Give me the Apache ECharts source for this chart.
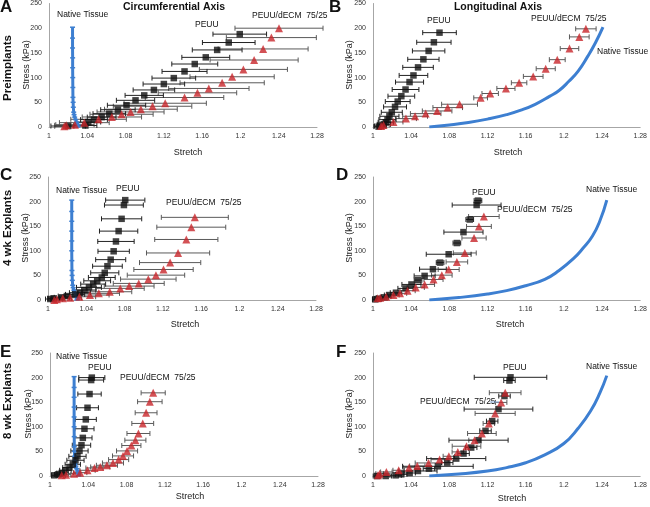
<!DOCTYPE html>
<html><head><meta charset="utf-8">
<script src="https://cdn.jsdelivr.net/npm/echarts@6/dist/echarts.min.js"></script>
<style>html,body{margin:0;padding:0;background:#fff}#c{width:650px;height:507px}</style>
</head><body><div id="c"></div>
<script>
// ---- tick labels ----
const stretchTicks = [1, 1.04, 1.08, 1.12, 1.16, 1.2, 1.24, 1.28];
const stressTicks = [0, 50, 100, 150, 200, 250];

// ---- data: [stretch, stress (kPa), stretch SD] ----
// A: Preimplants, circumferential
const nativeA = [[1.0300,0],[1.0306,2],[1.0302,5],[1.029,10],[1.0278,15],[1.0268,20],[1.0262,25],[1.0258,30],[1.0254,40],[1.0252,50],[1.025,60],[1.0249,80],[1.0248,100],[1.0247,120],[1.0247,140],[1.0246,160],[1.0246,180],[1.0246,202]];
const peuuA = [[1.1993,188,0.028],[1.1878,171,0.0275],[1.1757,156,0.026],[1.1638,141,0.025],[1.1523,127.5,0.024],[1.1416,112.5,0.0235],[1.1304,99,0.0228],[1.12,87,0.0217],[1.1096,75,0.0217],[1.0995,64,0.02],[1.0904,54,0.02],[1.081,44,0.02],[1.072,35,0.018],[1.063,27,0.017],[1.055,20,0.015],[1.047,15,0.014],[1.041,10,0.013],[1.038,3,0.012],[1.02,2,0.018]];
const decmA = [[1.2403,200,0.046],[1.2323,181,0.047],[1.2237,158,0.047],[1.2143,135.6,0.046],[1.2031,116.6,0.046],[1.1913,101.7,0.044],[1.1809,89.5,0.044],[1.167,78,0.042],[1.1551,69.2,0.041],[1.1416,59.7,0.041],[1.1214,48.1,0.043],[1.1082,42,0.041],[1.096,36,0.038],[1.0852,30.5,0.035],[1.0758,25.8,0.033],[1.0657,20.3,0.031],[1.0518,15.6,0.029],[1.0369,8.8,0.026],[1.0271,4.7,0.02],[1.018,3.4,0.012],[1.016,1.4,0.01]];
// B: Preimplants, longitudinal
const nativeB = [[1.059,0],[1.08,4],[1.1,9],[1.12,16],[1.14,25],[1.155,34],[1.17,46],[1.185,62],[1.195,74],[1.205,92],[1.215,113],[1.225,143],[1.233,170],[1.241,202]];
const peuuB = [[1.0697,191,0.0176],[1.0638,171.5,0.018],[1.0583,154,0.017],[1.0528,137,0.0164],[1.0472,120.7,0.016],[1.0424,104.4,0.015],[1.0383,90.9,0.0147],[1.0341,75.9,0.014],[1.0297,62.4,0.014],[1.0259,51.5,0.013],[1.0231,40.7,0.012],[1.0197,29.8,0.011],[1.0172,21.7,0.01],[1.0152,14.9,0.009],[1.0134,9.5,0.008],[1.0114,5.4,0.007],[1.0076,2,0.006],[1.0059,0.7,0.005]];
const decmB = [[1.2231,198.7,0.0107],[1.2162,182.4,0.0103],[1.2059,158.7,0.0097],[1.1931,136.3,0.0083],[1.181,118,0.01],[1.1679,102.4,0.0103],[1.1531,89.5,0.0081],[1.1393,78,0.0095],[1.1228,67.8,0.0086],[1.1128,59,0.0072],[1.0907,46.1,0.0188],[1.0783,39.3,0.0155],[1.0672,32.5,0.0155],[1.0552,27.1,0.016],[1.0441,21.7,0.013],[1.0345,17,0.011],[1.0214,10.2,0.01],[1.011,4,0.006],[1.0086,2,0.004]];
// C: 4 wk explants, circumferential
const nativeC = [[1.0302,0],[1.0307,2],[1.0303,5],[1.0292,10],[1.028,15],[1.027,20],[1.0263,25],[1.0258,30],[1.0254,40],[1.0252,50],[1.025,60],[1.0249,80],[1.0248,100],[1.0248,120],[1.0248,140],[1.0248,160],[1.0248,180],[1.0248,203]];
const peuuC = [[1.0807,203,0.0205],[1.0793,193,0.0203],[1.0769,165,0.021],[1.0738,140,0.02],[1.071,119,0.019],[1.0686,99,0.0164],[1.0655,82,0.0157],[1.0621,68.7,0.0155],[1.0593,55.2,0.0147],[1.0562,45.8,0.014],[1.0514,39,0.014],[1.0472,32.3,0.013],[1.0428,25.6,0.013],[1.0379,20.2,0.012],[1.0334,14.8,0.011],[1.0283,11.4,0.01],[1.0197,8,0.009],[1.0145,5.4,0.008],[1.0059,3.4,0.006],[1.0024,2,0.005]];
const decmC = [[1.1534,168,0.035],[1.1497,148,0.036],[1.1445,123,0.033],[1.1359,95.6,0.033],[1.1276,76,0.032],[1.1207,62,0.031],[1.1128,50.5,0.03],[1.1048,42.4,0.029],[1.0948,33.7,0.0266],[1.0848,28.3,0.026],[1.0755,23.6,0.025],[1.0645,16.8,0.023],[1.0531,13.5,0.0216],[1.0438,10.1,0.02],[1.0328,6.7,0.017],[1.0231,4.7,0.012],[1.0155,3.4,0.009],[1.0093,1.3,0.006],[1.0066,0,0.004]];
// D: 4 wk explants, longitudinal
const nativeD = [[1.059,0],[1.09,5],[1.12,12],[1.14,19],[1.16,29],[1.18,42],[1.195,60],[1.21,84],[1.22,105],[1.23,130],[1.238,162],[1.245,203]];
const peuuD = [[1.11,202,0.004],[1.1086,193,0.0256],[1.1014,163.6,0.004],[1.0948,138,0.0205],[1.0879,115.8,0.004],[1.0793,93,0.0235],[1.0703,76,0.004],[1.0628,62.6,0.014],[1.0541,49,0.011],[1.0472,40.4,0.004],[1.0403,31.6,0.01],[1.0341,23.6,0.008],[1.0241,14.8,0.006],[1.0169,10.1,0.005],[1.0121,5.4,0.004],[1.0059,2.7,0.004],[1.0024,1.3,0.003]];
const decmD = [[1.1162,169.7,0.016],[1.111,149.5,0.013],[1.1059,126,0.0127],[1.0962,95.6,0.012],[1.0879,77.4,0.0113],[1.0793,62,0.011],[1.0721,50.5,0.0108],[1.0634,41.7,0.01],[1.0541,31.6,0.0104],[1.0448,25.6,0.009],[1.0362,18.9,0.008],[1.0283,13.5,0.007],[1.0214,10.1,0.006],[1.0138,6.7,0.005],[1.0076,4.7,0.004],[1.0048,3.4,0.003]];
// E: 8 wk explants, circumferential
const nativeE = [[1.0296,0],[1.0300,2],[1.0297,5],[1.0288,10],[1.0278,15],[1.027,20],[1.0264,25],[1.026,30],[1.0257,40],[1.0255,50],[1.0254,60],[1.0253,80],[1.0252,100],[1.0252,120],[1.0252,140],[1.0252,160],[1.0252,180],[1.0252,202]];
const peuuE = [[1.0437,200,0.0136],[1.043,195,0.013],[1.0413,166.6,0.0122],[1.0392,138.7,0.0114],[1.0374,115,0.011],[1.036,96,0.01],[1.0343,77.5,0.0096],[1.0329,62.6,0.0096],[1.0308,51,0.009],[1.0287,40,0.009],[1.0266,32,0.009],[1.0238,23.8,0.008],[1.0203,17,0.007],[1.0161,11.6,0.006],[1.0122,6.1,0.005],[1.0087,3.4,0.004],[1.0045,1.4,0.003]];
const decmE = [[1.1078,169,0.0126],[1.1043,151,0.0128],[1.1004,128.5,0.0114],[1.0969,106.8,0.0114],[1.0924,86.4,0.012],[1.0892,72.8,0.011],[1.085,61.9,0.01],[1.0805,51,0.011],[1.0763,40.8,0.011],[1.0717,33.3,0.0105],[1.0658,26.5,0.011],[1.0595,21.8,0.011],[1.0525,18.4,0.01],[1.0465,16.3,0.009],[1.0392,11.6,0.008],[1.0315,6.8,0.007],[1.0252,4.8,0.006],[1.0168,2.7,0.005],[1.0122,1.4,0.004]];
// F: 8 wk explants, longitudinal
const nativeF = [[1.059,0],[1.09,4],[1.12,10],[1.14,17],[1.16,27],[1.18,43],[1.2,66],[1.215,97],[1.228,132],[1.238,170],[1.245,204]];
const peuuF = [[1.1441,200.6,0.038],[1.143,194,0.006],[1.1378,162.5,0.006],[1.1315,136,0.036],[1.1249,111.5,0.006],[1.1179,91.8,0.006],[1.1106,72.8,0.031],[1.1029,57.8,0.006],[1.0949,45.6,0.006],[1.0872,35.4,0.031],[1.0778,27.2,0.006],[1.068,19.7,0.037],[1.0586,15,0.006],[1.0471,10.2,0.02],[1.0384,6.1,0.006],[1.0296,3.4,0.006],[1.0237,1.4,0.006],[1.0133,0,0.006],[1.0042,0,0.004]];
const decmF = [[1.1385,169.3,0.0166],[1.1343,149.6,0.006],[1.128,127.2,0.021],[1.1214,106.8,0.006],[1.1141,86.4,0.015],[1.1064,72.8,0.006],[1.098,60.5,0.015],[1.0889,49,0.006],[1.0795,40.1,0.006],[1.0698,33.3,0.009],[1.0582,26.5,0.014],[1.0464,20.4,0.008],[1.0377,17,0.006],[1.0269,11.6,0.006],[1.014,8.2,0.006],[1.007,4.8,0.004],[1.0052,1.4,0.003]];

const panels = [
  {native: nativeA, peuu: peuuA, decm: decmA, markers: true},
  {native: nativeB, peuu: peuuB, decm: decmB, markers: false},
  {native: nativeC, peuu: peuuC, decm: decmC, markers: true},
  {native: nativeD, peuu: peuuD, decm: decmD, markers: false},
  {native: nativeE, peuu: peuuE, decm: decmE, markers: true},
  {native: nativeF, peuu: peuuF, decm: decmF, markers: false}
];

const grids = [
  {left: 49, top: 3, width: 268, height: 124},
  {left: 373, top: 3, width: 268, height: 124},
  {left: 48, top: 177, width: 268, height: 123},
  {left: 373, top: 177, width: 268, height: 123},
  {left: 50, top: 353, width: 268, height: 123},
  {left: 373, top: 353, width: 268, height: 123}
];

const BLUE = '#3d7fd1', RED = '#c8262b', BLACK = '#111';
const FONT = 'Liberation Sans';

function errRenderer(color) {
  return function (params, api) {
    const x = api.value(0), y = api.value(1), e = api.value(2);
    const p1 = api.coord([x - e, y]), p2 = api.coord([x + e, y]);
    const c = 2.5;
    const st = {stroke: color, lineWidth: 1};
    return {type: 'group', children: [
      {type: 'line', shape: {x1: p1[0], y1: p1[1], x2: p2[0], y2: p2[1]}, style: st},
      {type: 'line', shape: {x1: p1[0], y1: p1[1] - c, x2: p1[0], y2: p1[1] + c}, style: st},
      {type: 'line', shape: {x1: p2[0], y1: p2[1] - c, x2: p2[0], y2: p2[1] + c}, style: st}
    ]};
  };
}

const xAxes = [], yAxes = [], series = [];
panels.forEach((p, i) => {
  xAxes.push({type: 'value', gridIndex: i, min: stretchTicks[0], max: stretchTicks[stretchTicks.length - 1], interval: 0.04,
    axisLine: {show: true, lineStyle: {color: '#a6a6a6', width: 1}}, axisTick: {show: false}, splitLine: {show: false},
    axisLabel: {fontSize: 7, fontFamily: FONT, color: '#333', margin: 6, formatter: v => String(+v.toFixed(2))}});
  yAxes.push({type: 'value', gridIndex: i, min: stressTicks[0], max: stressTicks[stressTicks.length - 1], interval: 50,
    axisLine: {show: true, lineStyle: {color: '#a6a6a6', width: 1}}, axisTick: {show: false}, splitLine: {show: false},
    axisLabel: {fontSize: 7, fontFamily: FONT, color: '#333', margin: 7}});
  series.push({type: 'custom', xAxisIndex: i, yAxisIndex: i, renderItem: errRenderer('#5a5a5a'), data: p.decm, z: 1, silent: true, clip: false});
  series.push({type: 'custom', xAxisIndex: i, yAxisIndex: i, renderItem: errRenderer('#222'), data: p.peuu, z: 1, silent: true, clip: false});
  series.push({type: 'line', xAxisIndex: i, yAxisIndex: i, data: p.native, z: 2,
    showSymbol: p.markers, symbol: 'rect', symbolSize: [5, 1.5], smooth: !p.markers,
    itemStyle: {color: BLUE}, lineStyle: {color: BLUE, width: 3}});
  series.push({type: 'scatter', xAxisIndex: i, yAxisIndex: i, data: p.peuu.map(d => [d[0], d[1]]), z: 3,
    symbol: 'rect', symbolSize: 6.5, itemStyle: {color: BLACK}});
  series.push({type: 'scatter', xAxisIndex: i, yAxisIndex: i, data: p.decm.map(d => [d[0], d[1]]), z: 4,
    symbol: 'triangle', symbolSize: 8, itemStyle: {color: RED}});
});

function txt(text, x, y, opts) {
  opts = opts || {};
  return {type: 'text', x: x, y: y, rotation: opts.rot || 0, z: 10,
    style: {text: text, fill: opts.color || '#111', font: (opts.weight || 'normal') + ' ' + (opts.size || 8.5) + 'px ' + (opts.family || FONT),
      textAlign: opts.align || 'left', textVerticalAlign: 'middle'}};
}

const graphics = [
  // panel letters
  txt('A', 0, 7, {size: 17, weight: 'bold'}),
  txt('B', 329, 7, {size: 17, weight: 'bold'}),
  txt('C', 0, 175, {size: 17, weight: 'bold'}),
  txt('D', 336, 175, {size: 17, weight: 'bold'}),
  txt('E', 0, 352, {size: 17, weight: 'bold'}),
  txt('F', 336, 352, {size: 17, weight: 'bold'}),
  // titles
  txt('Circumferential Axis', 174, 7, {size: 10.5, weight: 'bold', align: 'center'}),
  txt('Longitudinal Axis', 498, 7, {size: 10.5, weight: 'bold', align: 'center'}),
  // row labels
  txt('Preimplants', 8, 68, {size: 11.5, weight: 'bold', align: 'center', rot: Math.PI / 2}),
  txt('4 wk Explants', 8, 228, {size: 11.5, weight: 'bold', align: 'center', rot: Math.PI / 2}),
  txt('8 wk Explants', 8, 401, {size: 11.5, weight: 'bold', align: 'center', rot: Math.PI / 2}),
  // axis titles
  txt('Stress (kPa)', 27, 65, {size: 9, align: 'center', rot: Math.PI / 2, color: '#222'}),
  txt('Stress (kPa)', 350, 65, {size: 9, align: 'center', rot: Math.PI / 2, color: '#222'}),
  txt('Stress (kPa)', 26, 238, {size: 9, align: 'center', rot: Math.PI / 2, color: '#222'}),
  txt('Stress (kPa)', 350, 238, {size: 9, align: 'center', rot: Math.PI / 2, color: '#222'}),
  txt('Stress (kPa)', 29, 414, {size: 9, align: 'center', rot: Math.PI / 2, color: '#222'}),
  txt('Stress (kPa)', 350, 414, {size: 9, align: 'center', rot: Math.PI / 2, color: '#222'}),
  txt('Stretch', 188, 153, {size: 9, align: 'center', color: '#222'}),
  txt('Stretch', 508, 153, {size: 9, align: 'center', color: '#222'}),
  txt('Stretch', 185, 325, {size: 9, align: 'center', color: '#222'}),
  txt('Stretch', 510, 325, {size: 9, align: 'center', color: '#222'}),
  txt('Stretch', 190, 497, {size: 9, align: 'center', color: '#222'}),
  txt('Stretch', 512, 499, {size: 9, align: 'center', color: '#222'}),
  // series labels A
  txt('Native Tissue', 57, 15), txt('PEUU', 195, 25), txt('PEUU/dECM  75/25', 252, 16),
  // B
  txt('PEUU', 427, 21), txt('PEUU/dECM  75/25', 531, 19), txt('Native Tissue', 597, 52),
  // C
  txt('Native Tissue', 56, 191), txt('PEUU', 116, 189), txt('PEUU/dECM  75/25', 166, 203),
  // D
  txt('PEUU', 472, 193), txt('PEUU/dECM  75/25', 497, 210), txt('Native Tissue', 586, 190),
  // E
  txt('Native Tissue', 56, 357), txt('PEUU', 88, 368), txt('PEUU/dECM  75/25', 120, 378),
  // F
  txt('PEUU', 503, 368), txt('PEUU/dECM  75/25', 420, 402), txt('Native Tissue', 586, 367),
  {type: 'line', z: 10, shape: {x1: 490, y1: 402, x2: 499, y2: 402}, style: {stroke: '#8fb3e0', lineWidth: 1}}
];

const chart = echarts.init(document.getElementById('c'), null, {renderer: 'canvas'});
chart.setOption({
  animation: false,
  backgroundColor: '#fff',
  grid: grids,
  xAxis: xAxes,
  yAxis: yAxes,
  series: series,
  graphic: graphics
});
</script>
</body></html>
